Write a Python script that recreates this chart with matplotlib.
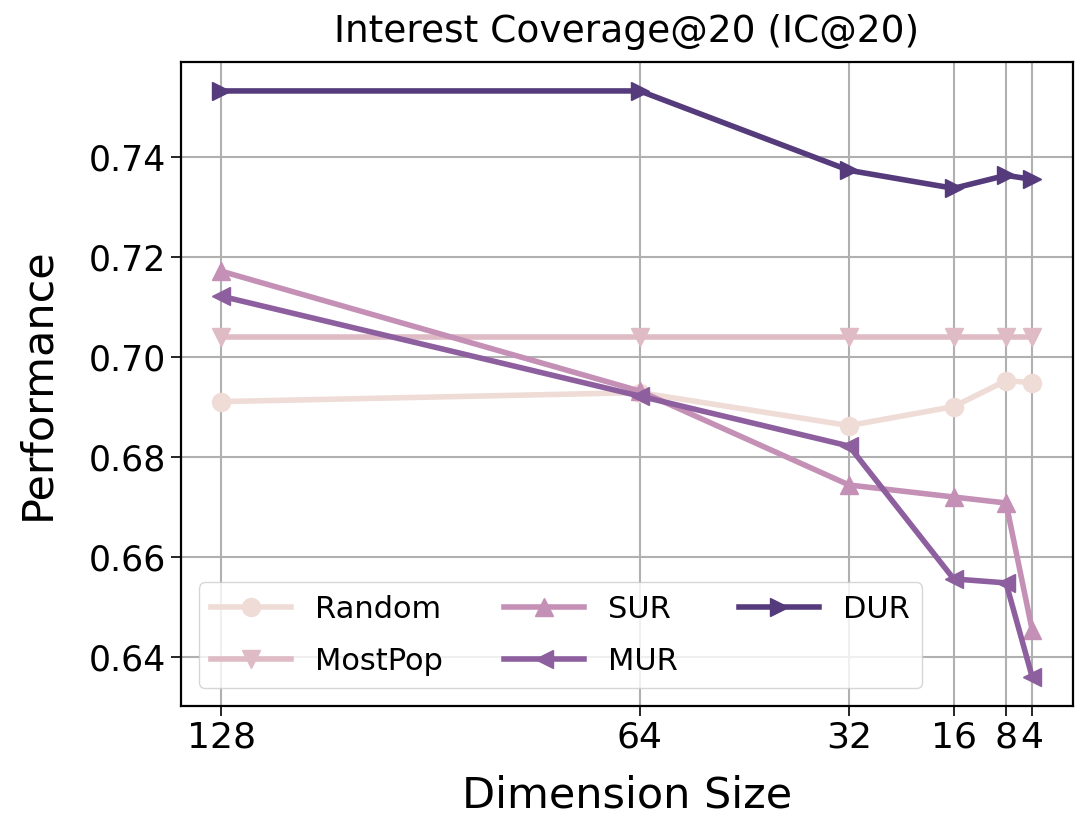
import matplotlib
matplotlib.use("Agg")
import matplotlib.pyplot as plt

# Embedding dimension sizes and IC@20 per method
dims = [128, 64, 32, 16, 8, 4]
random_vals = [0.6911, 0.6929, 0.6863, 0.6901, 0.6953, 0.6949]
mostpop_vals = [0.7040, 0.7040, 0.7040, 0.7040, 0.7040, 0.7040]
sur_vals = [0.7172, 0.6932, 0.6744, 0.6720, 0.6708, 0.6454]
mur_vals = [0.7122, 0.6922, 0.6822, 0.6556, 0.6548, 0.6360]
dur_vals = [0.7533, 0.7533, 0.7374, 0.7338, 0.7364, 0.7356]

series = [
    ("Random", random_vals, "o", "#efdcd7"),
    ("MostPop", mostpop_vals, "v", "#dfbbc6"),
    ("SUR", sur_vals, "^", "#c490b5"),
    ("MUR", mur_vals, "<", "#8d5f9f"),
    ("DUR", dur_vals, ">", "#553b7c"),
]

fig = plt.figure(figsize=(10.77, 8.22), dpi=100)
ax = fig.add_axes([0.168, 0.141, 0.828, 0.784])

for name, vals, marker, color in series:
    ax.plot(dims, vals, marker=marker, color=color, label=name,
            linewidth=4, markersize=13)

ax.invert_xaxis()
ax.set_xticks(dims)
ax.set_xticklabels([str(d) for d in dims])
ax.set_yticks([0.64, 0.66, 0.68, 0.70, 0.72, 0.74])
ax.grid(True, color="#b0b0b0", linewidth=1.5)
ax.tick_params(axis="x", labelsize=26, length=7, width=1.2)
ax.tick_params(axis="y", labelsize=25, length=7, width=1.2)
for s in ax.spines.values():
    s.set_linewidth(1.6)

ax.set_title("Interest Coverage@20 (IC@20)", fontsize=27, pad=14)
ax.set_xlabel("Dimension Size", fontsize=31, labelpad=14)
ax.set_ylabel("Performance", fontsize=31, labelpad=22)

ax.legend(ncol=3, loc="lower left", fontsize=22, handlelength=2.6,
          columnspacing=2.0, borderaxespad=0.6, framealpha=0.8,
          labelspacing=0.75)

fig.savefig("out.png", dpi=100)
